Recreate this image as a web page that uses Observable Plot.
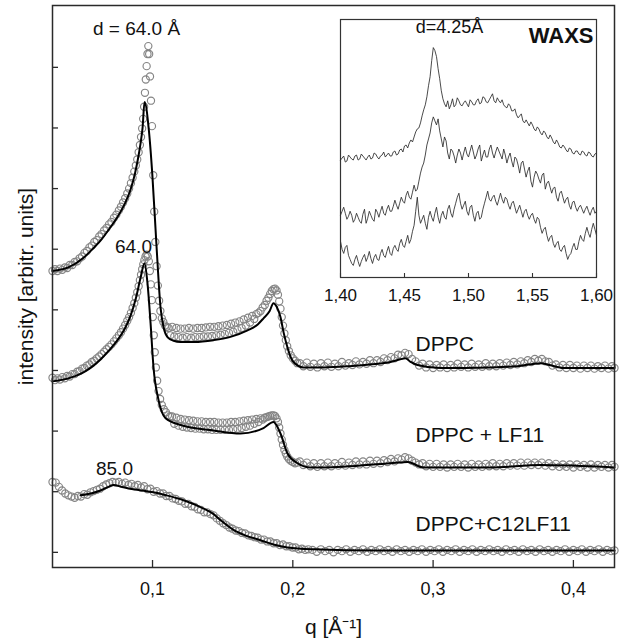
<!DOCTYPE html>
<html><head><meta charset="utf-8">
<script src="https://cdn.jsdelivr.net/npm/d3@7"></script>
<script src="https://cdn.jsdelivr.net/npm/@observablehq/plot@0.6"></script>
<style>
html,body{margin:0;padding:0;background:#fff;}
#wrap{position:relative;width:621px;height:639px;}
</style>
</head><body><div id="wrap"></div>
<script>
// ---------- SAXS data: q [1/Å], intensity (arbitrary units, curves offset) ----------
const xTicks = [0.1, 0.2, 0.3, 0.4];
const yTicks = [0, 1, 2, 3, 4, 5, 6, 7, 8];

const dppcCircles = [[0.0287,4.64],[0.0305,4.67],[0.0322,4.64],[0.034,4.68],[0.0357,4.66],[0.0375,4.70],[0.0392,4.69],[0.041,4.74],[0.0428,4.74],[0.0445,4.79],[0.0463,4.80],[0.048,4.85],[0.0498,4.88],[0.0515,4.94],[0.0532,4.97],[0.055,5.03],[0.0567,5.06],[0.0585,5.12],[0.0602,5.15],[0.062,5.21],[0.0637,5.25],[0.0655,5.31],[0.0672,5.35],[0.069,5.41],[0.0707,5.45],[0.0725,5.52],[0.0742,5.57],[0.076,5.64],[0.0775,5.70],[0.079,5.77],[0.0805,5.84],[0.082,5.92],[0.0833,6.00],[0.0846,6.09],[0.0858,6.18],[0.087,6.28],[0.0881,6.38],[0.0891,6.48],[0.0901,6.60],[0.091,6.72],[0.0918,6.85],[0.0926,6.99],[0.0933,7.15],[0.094,7.35],[0.0946,7.58],[0.0952,7.80],[0.0958,8.02],[0.0964,8.22],[0.097,8.35],[0.0976,8.22],[0.0982,7.85],[0.0989,7.45],[0.0996,7.03],[0.1005,6.22],[0.1012,5.62],[0.102,5.12],[0.1029,4.72],[0.1038,4.40],[0.1047,4.15],[0.1056,3.98],[0.1066,3.86],[0.1077,3.80],[0.1089,3.74],[0.1101,3.72],[0.1114,3.70],[0.1127,3.58],[0.114,3.72],[0.1155,3.56],[0.117,3.70],[0.1185,3.55],[0.12,3.69],[0.1215,3.54],[0.123,3.69],[0.1245,3.55],[0.126,3.70],[0.1275,3.54],[0.129,3.69],[0.1305,3.55],[0.132,3.70],[0.1335,3.55],[0.135,3.70],[0.1365,3.56],[0.138,3.71],[0.1395,3.56],[0.141,3.72],[0.1425,3.57],[0.144,3.72],[0.1455,3.58],[0.147,3.73],[0.1485,3.59],[0.15,3.74],[0.1515,3.60],[0.153,3.75],[0.1545,3.62],[0.156,3.77],[0.1575,3.64],[0.159,3.79],[0.1605,3.67],[0.162,3.81],[0.1635,3.70],[0.165,3.84],[0.1665,3.74],[0.168,3.87],[0.1695,3.79],[0.171,3.90],[0.1725,3.85],[0.174,3.93],[0.1755,3.95],[0.177,3.98],[0.1785,4.04],[0.18,4.08],[0.1813,4.15],[0.1826,4.20],[0.1838,4.26],[0.185,4.31],[0.1862,4.34],[0.1873,4.35],[0.1884,4.32],[0.1894,4.25],[0.1903,4.14],[0.1912,4.02],[0.1921,3.88],[0.193,3.74],[0.194,3.61],[0.195,3.50],[0.196,3.40],[0.1972,3.32],[0.1985,3.25],[0.2,3.20],[0.2016,3.16],[0.2032,3.12],[0.205,3.12],[0.2075,3.07],[0.21,3.13],[0.2125,3.06],[0.215,3.11],[0.2175,3.05],[0.22,3.12],[0.2225,3.07],[0.225,3.13],[0.2275,3.06],[0.23,3.11],[0.2325,3.07],[0.235,3.14],[0.2375,3.08],[0.24,3.12],[0.2425,3.09],[0.245,3.15],[0.2475,3.10],[0.25,3.14],[0.2525,3.11],[0.255,3.17],[0.2575,3.12],[0.26,3.17],[0.2625,3.14],[0.265,3.20],[0.2675,3.17],[0.27,3.22],[0.2725,3.20],[0.275,3.26],[0.2775,3.25],[0.28,3.29],[0.2825,3.27],[0.285,3.19],[0.2875,3.15],[0.29,3.08],[0.2925,3.11],[0.295,3.05],[0.2975,3.10],[0.30,3.04],[0.3025,3.09],[0.305,3.05],[0.3075,3.10],[0.31,3.04],[0.3125,3.09],[0.315,3.05],[0.3175,3.11],[0.32,3.06],[0.3225,3.10],[0.325,3.05],[0.3275,3.11],[0.33,3.06],[0.3325,3.10],[0.335,3.06],[0.3375,3.12],[0.34,3.07],[0.3425,3.11],[0.345,3.07],[0.3475,3.12],[0.35,3.08],[0.3525,3.13],[0.355,3.09],[0.3575,3.14],[0.36,3.10],[0.3625,3.15],[0.365,3.12],[0.3675,3.17],[0.37,3.14],[0.3725,3.19],[0.375,3.16],[0.3775,3.19],[0.38,3.15],[0.3825,3.14],[0.385,3.08],[0.3875,3.10],[0.39,3.05],[0.3925,3.09],[0.395,3.04],[0.3975,3.09],[0.40,3.04],[0.4025,3.08],[0.405,3.03],[0.4075,3.08],[0.41,3.04],[0.4125,3.08],[0.415,3.03],[0.4175,3.07],[0.42,3.04],[0.4225,3.08],[0.425,3.03],[0.4275,3.07],[0.4293,3.04]];

const dppcFit = [[0.0287,4.64],[0.04,4.70],[0.0508,4.86],[0.058,5.02],[0.0629,5.14],[0.069,5.33],[0.075,5.53],[0.080,5.74],[0.0843,5.98],[0.0875,6.25],[0.0893,6.45],[0.0915,6.75],[0.0929,7.0],[0.0943,7.43],[0.0974,6.96],[0.0998,6.25],[0.1029,5.03],[0.1057,4.04],[0.108,3.70],[0.1107,3.55],[0.115,3.49],[0.12,3.47],[0.13,3.47],[0.1435,3.50],[0.155,3.55],[0.1677,3.66],[0.175,3.76],[0.1791,3.86],[0.1835,3.98],[0.1862,4.11],[0.1885,4.05],[0.1912,3.88],[0.1935,3.62],[0.1962,3.38],[0.1985,3.22],[0.2005,3.14],[0.2076,3.05],[0.2219,3.05],[0.24,3.07],[0.255,3.10],[0.2696,3.14],[0.276,3.18],[0.2803,3.20],[0.284,3.14],[0.2889,3.09],[0.3053,3.04],[0.3409,3.05],[0.36,3.07],[0.3766,3.12],[0.383,3.09],[0.393,3.04],[0.4293,3.04]];

const lf11Circles = [[0.0287,2.88],[0.0305,2.84],[0.0322,2.87],[0.034,2.85],[0.0357,2.89],[0.0375,2.87],[0.0392,2.91],[0.041,2.90],[0.0428,2.94],[0.0445,2.94],[0.0463,2.98],[0.048,2.99],[0.0498,3.03],[0.0515,3.04],[0.0532,3.08],[0.055,3.10],[0.0567,3.14],[0.0585,3.16],[0.0602,3.20],[0.062,3.23],[0.0637,3.27],[0.0655,3.31],[0.0672,3.35],[0.069,3.39],[0.0707,3.43],[0.0725,3.48],[0.0742,3.53],[0.076,3.58],[0.0775,3.63],[0.079,3.69],[0.0805,3.75],[0.082,3.82],[0.0833,3.88],[0.0846,3.95],[0.0858,4.03],[0.087,4.11],[0.0881,4.20],[0.0891,4.29],[0.0901,4.39],[0.091,4.49],[0.0918,4.58],[0.0926,4.67],[0.0934,4.75],[0.0942,4.82],[0.095,4.88],[0.0958,4.91],[0.0966,4.88],[0.0974,4.80],[0.0981,4.64],[0.0988,4.42],[0.0995,4.16],[0.1002,3.88],[0.1009,3.58],[0.1016,3.30],[0.1024,3.05],[0.1033,2.83],[0.1043,2.66],[0.1054,2.53],[0.1066,2.43],[0.108,2.36],[0.1095,2.31],[0.111,2.26],[0.1125,2.24],[0.114,2.24],[0.1155,2.12],[0.117,2.22],[0.1185,2.09],[0.12,2.20],[0.1215,2.07],[0.123,2.19],[0.1245,2.06],[0.126,2.18],[0.1275,2.05],[0.129,2.17],[0.1305,2.04],[0.132,2.16],[0.1335,2.04],[0.135,2.16],[0.1365,2.03],[0.138,2.15],[0.1395,2.03],[0.141,2.15],[0.1425,2.02],[0.144,2.15],[0.1455,2.02],[0.147,2.14],[0.1485,2.02],[0.15,2.14],[0.1515,2.02],[0.153,2.14],[0.1545,2.02],[0.156,2.15],[0.1575,2.03],[0.159,2.15],[0.1605,2.04],[0.162,2.16],[0.1635,2.05],[0.165,2.17],[0.1665,2.07],[0.168,2.18],[0.1695,2.09],[0.171,2.19],[0.1725,2.12],[0.174,2.20],[0.1755,2.15],[0.177,2.21],[0.1785,2.19],[0.18,2.22],[0.1813,2.23],[0.1826,2.24],[0.1838,2.25],[0.185,2.26],[0.1862,2.26],[0.1873,2.25],[0.1884,2.21],[0.1894,2.15],[0.1903,2.06],[0.1912,1.96],[0.1921,1.86],[0.193,1.77],[0.194,1.69],[0.195,1.63],[0.196,1.58],[0.1972,1.54],[0.1985,1.51],[0.2,1.49],[0.2016,1.47],[0.2032,1.48],[0.205,1.50],[0.2075,1.44],[0.21,1.48],[0.2125,1.42],[0.215,1.47],[0.2175,1.41],[0.22,1.47],[0.2225,1.42],[0.225,1.48],[0.2275,1.42],[0.23,1.47],[0.2325,1.43],[0.235,1.49],[0.2375,1.43],[0.24,1.48],[0.2425,1.44],[0.245,1.50],[0.2475,1.45],[0.25,1.50],[0.2525,1.45],[0.255,1.51],[0.2575,1.46],[0.26,1.51],[0.2625,1.47],[0.265,1.52],[0.2675,1.49],[0.27,1.54],[0.2725,1.50],[0.275,1.55],[0.2775,1.53],[0.28,1.57],[0.2825,1.55],[0.285,1.51],[0.2875,1.48],[0.29,1.45],[0.2925,1.47],[0.295,1.42],[0.2975,1.46],[0.30,1.41],[0.3025,1.46],[0.305,1.41],[0.3075,1.45],[0.31,1.40],[0.3125,1.45],[0.315,1.41],[0.3175,1.46],[0.32,1.41],[0.3225,1.45],[0.325,1.40],[0.3275,1.46],[0.33,1.41],[0.3325,1.45],[0.335,1.41],[0.3375,1.46],[0.34,1.42],[0.3425,1.47],[0.345,1.42],[0.3475,1.46],[0.35,1.42],[0.3525,1.47],[0.355,1.43],[0.3575,1.47],[0.36,1.43],[0.3625,1.48],[0.365,1.43],[0.3675,1.48],[0.37,1.44],[0.3725,1.48],[0.375,1.44],[0.3775,1.48],[0.38,1.43],[0.3825,1.47],[0.385,1.42],[0.3875,1.46],[0.39,1.41],[0.3925,1.45],[0.395,1.41],[0.3975,1.45],[0.40,1.40],[0.4025,1.45],[0.405,1.41],[0.4075,1.44],[0.41,1.40],[0.4125,1.45],[0.415,1.40],[0.4175,1.44],[0.42,1.41],[0.4225,1.44],[0.425,1.40],[0.4275,1.44],[0.4293,1.41]];

const lf11Fit = [[0.0287,2.82],[0.04,2.87],[0.0508,2.97],[0.058,3.08],[0.0629,3.18],[0.069,3.33],[0.075,3.50],[0.080,3.68],[0.0843,3.90],[0.0879,4.17],[0.0914,4.52],[0.0943,4.77],[0.0964,4.44],[0.0986,3.78],[0.1007,3.05],[0.1043,2.51],[0.1093,2.21],[0.12,2.10],[0.1435,2.01],[0.1627,1.96],[0.1791,2.05],[0.1862,2.15],[0.1912,1.96],[0.1962,1.63],[0.2034,1.47],[0.2127,1.40],[0.2219,1.40],[0.2696,1.47],[0.2818,1.49],[0.2932,1.40],[0.3409,1.40],[0.3766,1.44],[0.4293,1.40]];

const c12Circles = [[0.0287,1.16],[0.031,1.15],[0.0333,1.08],[0.0355,1.02],[0.0378,0.97],[0.04,0.94],[0.0423,0.92],[0.0445,0.90],[0.0468,0.93],[0.049,0.92],[0.0513,0.96],[0.0535,0.95],[0.0558,0.99],[0.058,1.01],[0.0603,1.03],[0.0625,1.05],[0.0648,1.09],[0.067,1.12],[0.0693,1.14],[0.0715,1.16],[0.0738,1.15],[0.076,1.16],[0.0783,1.13],[0.0805,1.15],[0.0828,1.11],[0.085,1.13],[0.0873,1.09],[0.0895,1.11],[0.0918,1.07],[0.094,1.09],[0.0963,1.04],[0.0985,1.05],[0.1008,1.00],[0.103,1.01],[0.1053,0.97],[0.1075,0.97],[0.1098,0.93],[0.112,0.93],[0.1143,0.89],[0.1165,0.88],[0.1188,0.85],[0.121,0.84],[0.1233,0.80],[0.1255,0.80],[0.1278,0.76],[0.13,0.75],[0.1323,0.71],[0.1345,0.70],[0.1368,0.66],[0.139,0.66],[0.1413,0.63],[0.1435,0.61],[0.1458,0.56],[0.148,0.52],[0.1503,0.48],[0.1525,0.45],[0.1548,0.41],[0.157,0.39],[0.1593,0.36],[0.1615,0.35],[0.1638,0.32],[0.166,0.31],[0.1683,0.28],[0.1705,0.27],[0.1728,0.25],[0.175,0.24],[0.1773,0.21],[0.1795,0.21],[0.1818,0.18],[0.184,0.18],[0.1863,0.15],[0.1885,0.15],[0.1908,0.12],[0.193,0.13],[0.1953,0.10],[0.1975,0.10],[0.1998,0.08],[0.202,0.08],[0.2043,0.05],[0.2065,0.06],[0.2088,0.04],[0.211,0.05],[0.214,0.04],[0.217,0.01],[0.22,0.05],[0.223,0.02],[0.226,0.04],[0.229,0.00],[0.232,0.04],[0.235,0.02],[0.238,0.05],[0.241,0.01],[0.244,0.04],[0.247,0.02],[0.25,0.05],[0.253,0.01],[0.256,0.04],[0.259,0.02],[0.262,0.05],[0.265,0.02],[0.268,0.04],[0.271,0.01],[0.274,0.05],[0.277,0.02],[0.28,0.04],[0.283,0.01],[0.286,0.04],[0.289,0.02],[0.292,0.05],[0.295,0.01],[0.298,0.04],[0.301,0.02],[0.304,0.05],[0.307,0.01],[0.31,0.04],[0.313,0.02],[0.316,0.05],[0.319,0.01],[0.322,0.04],[0.325,0.02],[0.328,0.05],[0.331,0.01],[0.334,0.04],[0.337,0.02],[0.34,0.05],[0.343,0.02],[0.346,0.04],[0.349,0.01],[0.352,0.05],[0.355,0.02],[0.358,0.04],[0.361,0.01],[0.364,0.05],[0.367,0.02],[0.37,0.04],[0.373,0.01],[0.376,0.05],[0.379,0.02],[0.382,0.04],[0.385,0.01],[0.388,0.04],[0.391,0.02],[0.394,0.05],[0.397,0.01],[0.40,0.04],[0.403,0.02],[0.406,0.05],[0.409,0.01],[0.412,0.04],[0.415,0.02],[0.418,0.05],[0.421,0.01],[0.424,0.04],[0.427,0.02],[0.4293,0.03]];

const c12Fit = [[0.0487,0.94],[0.056,0.97],[0.0629,1.02],[0.0686,1.08],[0.0722,1.11],[0.078,1.08],[0.0865,1.04],[0.095,1.01],[0.1007,0.99],[0.11,0.94],[0.1221,0.86],[0.132,0.77],[0.1392,0.69],[0.1435,0.63],[0.1485,0.53],[0.1577,0.37],[0.166,0.28],[0.177,0.20],[0.1862,0.13],[0.1962,0.08],[0.2148,0.05],[0.26,0.03],[0.4293,0.03]];

// annotation anchors in data coordinates
const peakLabels = [
  {q: 0.0886, I: 8.53, text: "d = 64.0 Å"},
  {q: 0.0864, I: 4.93, text: "64.0"},
  {q: 0.0729, I: 1.27, text: "85.0"}
];
const seriesLabels = [
  {q: 0.2875, I: 3.32, text: "DPPC"},
  {q: 0.2875, I: 1.82, text: "DPPC + LF11"},
  {q: 0.2875, I: 0.35, text: "DPPC+C12LF11"}
];

// ---------- WAXS inset data ----------
const waxsTicks = [1.40, 1.45, 1.50, 1.55, 1.60];
const waxsQ = [1.4,1.40125,1.4025,1.40375,1.405,1.40625,1.4075,1.40875,1.41,1.41125,1.4125,1.41375,1.415,1.41625,1.4175,1.41875,1.42,1.42125,1.4225,1.42375,1.425,1.42625,1.4275,1.42875,1.43,1.43125,1.4325,1.43375,1.435,1.43625,1.4375,1.43875,1.44,1.44125,1.4425,1.44375,1.445,1.44625,1.4475,1.44875,1.45,1.45125,1.4525,1.45375,1.455,1.45625,1.4575,1.45875,1.46,1.46125,1.4625,1.46375,1.465,1.46625,1.4675,1.46875,1.47,1.47125,1.4725,1.47375,1.475,1.47625,1.4775,1.47875,1.48,1.48125,1.4825,1.48375,1.485,1.48625,1.4875,1.48875,1.49,1.49125,1.4925,1.49375,1.495,1.49625,1.4975,1.49875,1.5,1.50125,1.5025,1.50375,1.505,1.50625,1.5075,1.50875,1.51,1.51125,1.5125,1.51375,1.515,1.51625,1.5175,1.51875,1.52,1.52125,1.5225,1.52375,1.525,1.52625,1.5275,1.52875,1.53,1.53125,1.5325,1.53375,1.535,1.53625,1.5375,1.53875,1.54,1.54125,1.5425,1.54375,1.545,1.54625,1.5475,1.54875,1.55,1.55125,1.5525,1.55375,1.555,1.55625,1.5575,1.55875,1.56,1.56125,1.5625,1.56375,1.565,1.56625,1.5675,1.56875,1.57,1.57125,1.5725,1.57375,1.575,1.57625,1.5775,1.57875,1.58,1.58125,1.5825,1.58375,1.585,1.58625,1.5875,1.58875,1.59,1.59125,1.5925,1.59375,1.595,1.59625,1.5975,1.59875,1.6];
const waxsTop = [58.5,59.5,60.5,57.5,58,61,60,59,58.5,60.5,61,58.5,59,61.5,60.5,59.5,58.5,60,61,59,59.5,62,61.5,60,59,60.5,61,62.5,60,61,62,60.5,60.5,62.5,63,61,61.5,63.5,64,62.5,65.5,66,64.5,67,68.5,67.5,70,72.5,74,74.5,77,80.5,83.5,86,90,95.5,100,108,114.5,113,110,104,99,93,89,86.5,85,88,84,86,89,85,86,89.5,88,86,85.5,87,88,86.5,85,88.5,87.5,86,86,88,89,86.5,87,90,89.5,87.5,87,88.5,90,91.5,88,87,89.5,88,87,88.5,86,85,84.5,86.5,85.5,83,83,84,81,79.5,80.5,81.5,78,77,78.5,77,75.5,77.5,76,74,73,75,74,72,71,73,72,70,69,71,69.5,67.5,66.5,68.5,67,65,64.5,66,65,63.5,62.5,64.5,64,62,61.5,63,63,61.5,61,63,62.5,61,60.5,62.5,62,60.5,60,61.5,62];
const waxsMid = [31,33,35,32,29,30.5,33,31,27.5,29,32,30,28,27,31.5,34,27,29.5,33,31,29,28,34,32.5,30,33,35.5,32,31,34,36,33,33,35.5,38.5,36,34,37,40,38,37,41,43,40,39,42.5,46,43,44,48,52,55,57,61,66,69,72,77,80,78,76,79,73,69,65,70,68,62,59,64,63,60.5,57,61,64,62,58.5,62,65,61.5,60,63,66,62.5,59,61,64,66,58,61,63.5,60,60,64,66,62,59.5,62.5,65,63,61,59,64,61,57,60,62,58,55,60,59,56,52,57,58,54,50,53,55,48,45,50,53,51.5,49,47,51,52,44,47,48,45,42,44.5,45,40,38,42,43,40,37,39,40,36,34,37.5,38,35,33,35,36,34,32,34,35.5,33,31,33.5,35,32,33];
const waxsBot = [18,14,12,15,16,11,9,7,6,9,11,8,5.5,8,10,11.5,8,10,13,9.5,7,10,11.5,9,8.5,12,14,11,10,13,15.5,12,11,14.5,16,14,13,17,19,16,15,18,21,17,19,23,26,33,40,31,27,29,31,27,24,30,33,30,28,32,35,30,27,31,33,30,29,34,36,32,30,34,37,40,42,37,34,36,38,33,31,35,36,31,28,32,33,29,30,34,37,40,43,39,38,40,41,38,36,39,42,39,37,40,39,36,34,37,38,35,32,34,36,33,30,33,34,31,29,31,32,29,27,30,29,25,22,24,25,21,18,20,21,17,15,17,18,14,13,15,16,12,9,11,12,15,17,14,14,18,21,19,18,22,25,22,20,24,27,24,21];

// ---------- layout ----------
const FONT = '"Liberation Sans", Arial, Helvetica, sans-serif';
const W = 621, H = 639, mT = 5, mR = 7, mB = 72, mL = 52;
const frameW = W - mL - mR, frameH = H - mT - mB;
const qx = d => d[0], iy = d => d[1];
const circleStyle = {x: qx, y: iy, r: 3.6, fill: "none", stroke: "#858585", strokeWidth: 1.15};
const fitStyle = {x: qx, y: iy, stroke: "#000", strokeWidth: 2, curve: "monotone-x"};
const comma = d => d.toFixed(1).replace(".", ",");

const main = Plot.plot({
  width: W, height: H,
  marginTop: mT, marginRight: mR, marginBottom: mB, marginLeft: mL,
  style: {fontFamily: FONT, fontSize: "18px", color: "#111", background: "white"},
  x: {domain: [0.0287, 0.4293]},
  y: {domain: [-0.25, 9.02], axis: null},
  marks: [
    Plot.dot(dppcCircles, circleStyle),
    Plot.dot(lf11Circles, circleStyle),
    Plot.dot(c12Circles, circleStyle),
    Plot.line(dppcFit, fitStyle),
    Plot.line(lf11Fit, fitStyle),
    Plot.line(c12Fit, fitStyle),
    Plot.frame({stroke: "#2a2a2a", strokeWidth: 1.5}),
    Plot.tickX(xTicks, {x: d => d, insetTop: frameH - 7, stroke: "#2a2a2a", strokeWidth: 1.3}),
    Plot.tickY(yTicks, {y: d => d, insetRight: frameW - 6, stroke: "#2a2a2a", strokeWidth: 1.3}),
    Plot.axisX(xTicks, {tickSize: 0, tickPadding: 15, tickFormat: comma, label: null, fontSize: 18}),
    Plot.text(peakLabels, {x: "q", y: "I", text: "text", lineAnchor: "bottom", fontSize: 19, fill: "#111"}),
    Plot.text(seriesLabels, {x: "q", y: "I", text: "text", textAnchor: "start", lineAnchor: "bottom", fontSize: 21, fill: "#111"}),
    Plot.text(["intensity [arbitr. units]"], {text: d => d, frameAnchor: "left", dx: -26, rotate: -90, textAnchor: "middle", lineAnchor: "middle", fontSize: 21, fill: "#111"}),
    Plot.text(["q [Å⁻¹]"], {text: d => d, frameAnchor: "bottom", dy: 66, textAnchor: "middle", lineAnchor: "bottom", fontSize: 21, fill: "#111"})
  ]
});

const iW = 306, iH = 293, iT = 5, iR = 20, iB = 30, iL = 30;
const waxsLine = vals => Plot.line(waxsQ, {x: d => d, y: (d, i) => vals[i], stroke: "#2b2b2b", strokeWidth: 0.85});
const inset = Plot.plot({
  width: iW, height: iH,
  marginTop: iT, marginRight: iR, marginBottom: iB, marginLeft: iL,
  style: {fontFamily: FONT, fontSize: "17px", color: "#111", background: "transparent"},
  x: {domain: [1.40, 1.60]},
  y: {domain: [0, 128.5], axis: null},
  marks: [
    waxsLine(waxsTop),
    waxsLine(waxsMid),
    waxsLine(waxsBot),
    Plot.frame({stroke: "#333", strokeWidth: 1.2}),
    Plot.tickX(waxsTicks, {x: d => d, insetTop: (iH - iT - iB) - 4, stroke: "#333", strokeWidth: 1.1}),
    Plot.axisX(waxsTicks, {tickSize: 0, tickPadding: 11, tickFormat: d => d.toFixed(2).replace(".", ","), label: null, fontSize: 17}),
    Plot.text(["d=4.25Å"], {x: 1.4852, y: 122, text: d => d, lineAnchor: "bottom", fontSize: 18, fill: "#111"}),
    Plot.text(["WAXS"], {x: 1.5977, y: 117, text: d => d, textAnchor: "end", lineAnchor: "bottom", fontSize: 22, fontWeight: "bold", fill: "#111"})
  ]
});
inset.style.position = "absolute";
inset.style.left = "310px";
inset.style.top = "14px";
inset.style.background = "transparent";

const wrap = document.getElementById("wrap");
wrap.appendChild(main);
wrap.appendChild(inset);
</script>
</body></html>
